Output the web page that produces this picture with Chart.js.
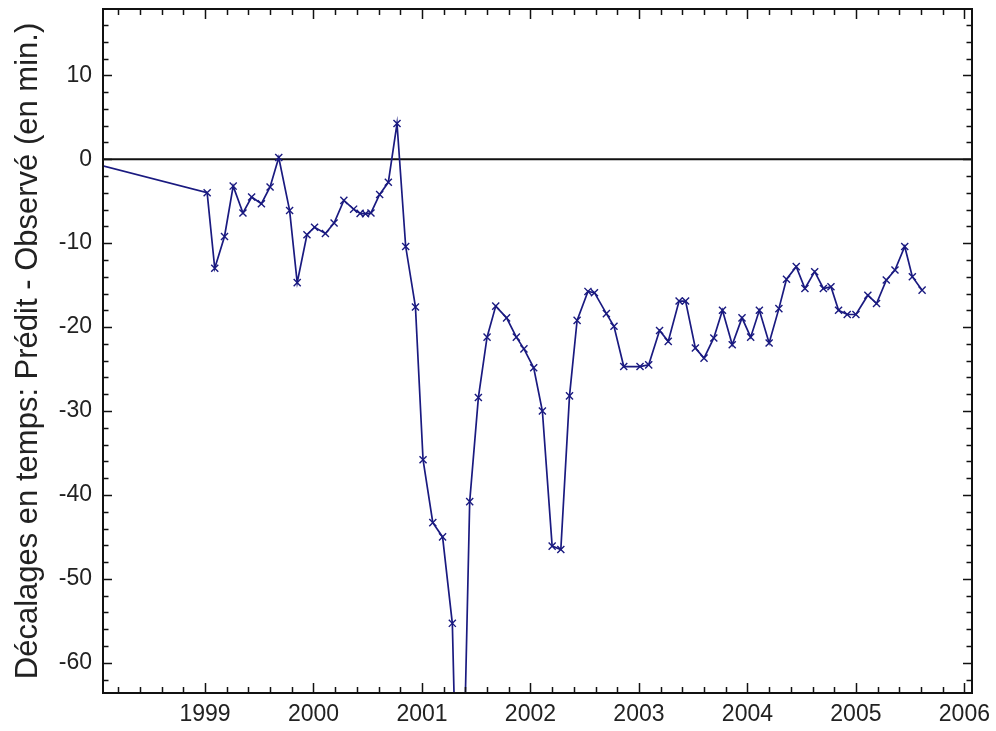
<!DOCTYPE html>
<html>
<head>
<meta charset="utf-8">
<script src="https://cdn.jsdelivr.net/npm/chart.js@4.4.1/dist/chart.umd.min.js"></script>
<style>
  body { margin: 0; background: #fff; }
  canvas { display: block; }
</style>
</head>
<body>
<canvas id="myChart" width="996" height="731"></canvas>
<script>
// readings: decimal year, offset in minutes
const years = [
  1998.00, 1999.02, 1999.09, 1999.18, 1999.26, 1999.35, 1999.43, 1999.52, 1999.60, 1999.68,
  1999.78, 1999.85, 1999.94, 2000.01, 2000.11, 2000.19, 2000.28, 2000.37, 2000.43, 2000.48,
  2000.53, 2000.61, 2000.69, 2000.77, 2000.85, 2000.94, 2001.01, 2001.10, 2001.19, 2001.28,
  2001.35, 2001.44, 2001.52, 2001.60, 2001.68, 2001.78, 2001.87, 2001.94, 2002.03, 2002.11,
  2002.20, 2002.28, 2002.36, 2002.43, 2002.53, 2002.59, 2002.70, 2002.77, 2002.86, 2003.01,
  2003.09, 2003.19, 2003.27, 2003.37, 2003.43, 2003.52, 2003.60, 2003.69, 2003.77, 2003.86,
  2003.95, 2004.03, 2004.11, 2004.20, 2004.29, 2004.36, 2004.45, 2004.53, 2004.62, 2004.70,
  2004.77, 2004.84, 2004.92, 2005.00, 2005.11, 2005.19, 2005.28, 2005.36, 2005.45, 2005.52,
  2005.61
];
const offsets = [
  -0.6, -4.0, -13.0, -9.2, -3.2, -6.4, -4.5, -5.3, -3.3, 0.2,
  -6.1, -14.7, -9.0, -8.1, -8.85, -7.6, -4.9, -5.95, -6.45, -6.5,
  -6.4, -4.2, -2.75, 4.25, -10.4, -17.6, -35.8, -43.3, -45.0, -55.3,
  -93.0, -40.8, -28.4, -21.2, -17.5, -18.9, -21.2, -22.6, -24.85, -30.0,
  -46.1, -46.5, -28.2, -19.2, -15.75, -15.9, -18.4, -19.9, -24.7, -24.7,
  -24.5, -20.4, -21.7, -16.9, -16.9, -22.5, -23.7, -21.3, -18.0, -22.1,
  -18.9, -21.2, -18.0, -21.9, -17.8, -14.3, -12.8, -15.4, -13.4, -15.4,
  -15.2, -18.0, -18.5, -18.5, -16.2, -17.2, -14.4, -13.2, -10.4, -14.0,
  -15.6
];
const xTicks = [1999, 2000, 2001, 2002, 2003, 2004, 2005, 2006];
const yTicks = [10, 0, -10, -20, -30, -40, -50, -60];
const xRange = [1998.06, 2006.07];
const yRange = [-63.6, 17.9];

const FONT = "'Liberation Sans', Arial, sans-serif";

// frame and inward tick marks on all four sides
const frameTicks = {
  id: 'frameTicks',
  afterDatasetsDraw(chart) {
    const {ctx, chartArea: a, scales: {x, y}} = chart;
    ctx.save();
    ctx.strokeStyle = '#111';
    ctx.lineWidth = 1.5;
    ctx.beginPath();
    for (let k = Math.ceil(y.min / 2); k * 2 <= y.max; k++) {
      const py = Math.round(y.getPixelForValue(k * 2)) + 0.5;
      const len = (k * 2) % 10 === 0 ? 9 : 5.5;
      ctx.moveTo(a.left, py); ctx.lineTo(a.left + len, py);
      ctx.moveTo(a.right, py); ctx.lineTo(a.right - len, py);
    }
    for (let k = Math.ceil(x.min * 5); k / 5 <= x.max; k++) {
      const px = Math.round(x.getPixelForValue(k / 5)) + 0.5;
      const len = k % 5 === 0 ? 10 : 6;
      ctx.moveTo(px, a.bottom); ctx.lineTo(px, a.bottom - len);
      ctx.moveTo(px, a.top); ctx.lineTo(px, a.top + len);
    }
    ctx.stroke();
    ctx.lineWidth = 2;
    ctx.strokeRect(a.left, a.top, a.right - a.left, a.bottom - a.top);
    ctx.restore();
  }
};

new Chart(document.getElementById('myChart'), {
  type: 'line',
  data: {
    datasets: [
      {
        data: years.map((yr, i) => ({x: yr, y: offsets[i]})),
        borderColor: '#1a1a80',
        borderWidth: 1.7,
        pointStyle: 'crossRot',
        pointRadius: 5,
        pointBorderColor: '#1a1a80',
        pointBorderWidth: 1.4,
        tension: 0,
        clip: 1
      },
      {
        // zero reference line
        data: [{x: xRange[0], y: 0}, {x: xRange[1], y: 0}],
        borderColor: '#111',
        borderWidth: 2,
        pointRadius: 0
      }
    ]
  },
  options: {
    responsive: false,
    animation: false,
    layout: { padding: { left: 0, top: 9, right: 24, bottom: 0 } },
    plugins: { legend: { display: false }, tooltip: { enabled: false } },
    scales: {
      x: {
        type: 'linear',
        min: xRange[0],
        max: xRange[1],
        grid: { display: false, drawTicks: false },
        border: { display: false },
        afterBuildTicks: s => { s.ticks = xTicks.map(v => ({value: v})); },
        afterFit: s => { s.height = 38; s.paddingLeft = 0; s.paddingRight = 0; },
        ticks: {
          autoSkip: false,
          maxRotation: 0,
          padding: 8,
          color: '#222',
          font: { family: FONT, size: 23 },
          callback: v => String(v)
        }
      },
      y: {
        min: yRange[0],
        max: yRange[1],
        grid: { display: false, drawTicks: false },
        border: { display: false },
        afterBuildTicks: s => { s.ticks = yTicks.map(v => ({value: v})); },
        afterFit: s => { s.width = 103; s.paddingTop = 0; s.paddingBottom = 0; },
        ticks: {
          padding: 11,
          color: '#222',
          font: { family: FONT, size: 23 },
          callback: v => String(v)
        },
        title: {
          display: true,
          text: 'Décalages en temps: Prédit - Observé (en min.)',
          color: '#222',
          font: { family: FONT, size: 31 },
          padding: { top: 10, bottom: 0 }
        }
      }
    }
  },
  plugins: [frameTicks]
});
</script>
</body>
</html>
